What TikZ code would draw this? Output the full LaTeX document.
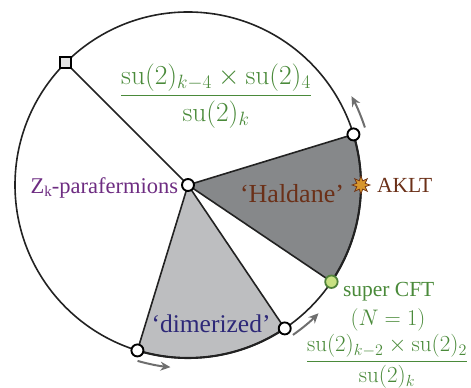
\documentclass[tikz,border=0pt]{standalone}
\usepackage{fix-cm}
\usepackage[no-math]{fontspec}
\setmainfont{Liberation Serif}
\usepackage{amsmath}
\usetikzlibrary{arrows.meta,shapes.geometric}
\definecolor{fgreen}{HTML}{4A8A3A}
\definecolor{fpurple}{HTML}{6E2D82}
\definecolor{fbrown}{HTML}{6B3018}
\definecolor{fnavy}{HTML}{2D2878}
\definecolor{hfill}{HTML}{86888A}
\definecolor{dfill}{HTML}{BDBEC0}
\definecolor{agray}{HTML}{6E6E6E}
\definecolor{lineblk}{HTML}{222222}
\definecolor{nodegreen}{HTML}{C8E182}
\definecolor{nodegreenb}{HTML}{50823A}
\definecolor{starfill}{HTML}{D7962D}
\definecolor{starline}{HTML}{6E3214}
\tikzset{
  circ/.style={draw=lineblk,line width=1.6pt},
  edge/.style={draw=lineblk,line width=1.6pt},
  thickarc/.style={draw=lineblk,line width=2.1pt},
  opennode/.style={circle,draw=black,line width=1.9pt,fill=white,minimum size=12pt,inner sep=0pt},
  sqnode/.style={rectangle,draw=black,line width=1.6pt,fill=black!10,minimum size=11pt,inner sep=0pt},
  greennode/.style={circle,draw=nodegreenb,line width=1.8pt,fill=nodegreen,minimum size=12.5pt,inner sep=0pt},
  starnode/.style={star,star points=8,star point ratio=2.0,draw=starline,line width=0.7pt,fill=starfill,minimum size=18pt,inner sep=0pt},
  garrow/.style={draw=agray,line width=2pt,-{Stealth[length=10pt,width=9pt]}},
  lbl/.style={inner sep=0pt,outer sep=0pt},
}
\begin{document}
\begin{tikzpicture}[x=1pt,y=1pt]
\useasboundingbox (0,0) rectangle (471,388);
\coordinate (C) at (188,203);
\coordinate (a135) at ([shift={(135:173)}]C);
\coordinate (a17) at ([shift={(17:173)}]C);
\coordinate (a0) at ([shift={(0:173)}]C);
\coordinate (am34) at ([shift={(-34:173)}]C);
\coordinate (am56) at ([shift={(-56:173)}]C);
\coordinate (am107) at ([shift={(-107:173)}]C);
% sectors
\fill[hfill] (C) -- (a17) arc[start angle=17,end angle=-34,radius=173] -- cycle;
\fill[dfill] (C) -- (am56) arc[start angle=-56,end angle=-107,radius=173] -- cycle;
% circle
\draw[circ] (C) circle[radius=173];
\draw[thickarc] (a17) arc[start angle=17,end angle=-34,radius=173];
\draw[thickarc] (am56) arc[start angle=-56,end angle=-107,radius=173];
% spokes
\draw[edge] (C) -- (a135);
\draw[edge] (C) -- (a17);
\draw[edge] (C) -- (am34);
\draw[edge] (C) -- (am56);
\draw[edge] (C) -- (am107);
% arrows
\coordinate (ar1s) at ([shift={(18:186)}]C);
\draw[garrow] (ar1s) arc[start angle=18,end angle=28.5,radius=186];
\coordinate (ar2s) at ([shift={(-55:183)}]C);
\draw[garrow] (ar2s) arc[start angle=-55,end angle=-44.5,radius=183];
\coordinate (ar3s) at ([shift={(-106:183)}]C);
\draw[garrow] (ar3s) arc[start angle=-106,end angle=-95.5,radius=183];
% nodes
\node[opennode] (center) at (C) {};
\node[sqnode] (sq) at (a135) {};
\node[opennode] (n17) at (a17) {};
\node[starnode] (aklt) at (a0) {};
\node[greennode] (scft) at (am34) {};
\node[opennode] (n56) at (am56) {};
\node[opennode] (n107) at (am107) {};
% labels
\node[lbl,text=fgreen,font=\fontsize{27.5}{33}\selectfont] (frac1) at (216,292)
  {$\dfrac{\mathrm{su}(2)_{k-4}\times\mathrm{su}(2)_4}{\mathrm{su}(2)_k}$};
\node[lbl,anchor=base east,text=fpurple,font=\fontsize{22.5}{27}\selectfont] (zk) at (178,194)
  {Z\lower2.5pt\hbox{\fontsize{15}{18}\selectfont k}-parafermions};
\node[lbl,anchor=base,text=fbrown,font=\fontsize{26}{31}\selectfont] (hald) at (292,185) {‘Haldane’};
\node[lbl,anchor=base west,text=fbrown,font=\fontsize{21.5}{26}\selectfont] (akltl) at (377,195) {AKLT};
\node[lbl,anchor=base,text=fnavy,font=\fontsize{25.5}{30}\selectfont] (dim) at (211,55) {‘dimerized’};
\node[lbl,anchor=base west,text=fgreen,font=\fontsize{21.5}{26}\selectfont] (scftl) at (343,91) {super CFT};
\node[lbl,text=fgreen,font=\fontsize{22.5}{27}\selectfont] (n1) at (388,68) {$(N=1)$};
\node[lbl,text=fgreen,font=\fontsize{23}{28}\selectfont] (frac2) at (387,26.5)
  {$\dfrac{\mathrm{su}(2)_{k-2}\times\mathrm{su}(2)_2}{\mathrm{su}(2)_k}$};
\end{tikzpicture}
\end{document}
